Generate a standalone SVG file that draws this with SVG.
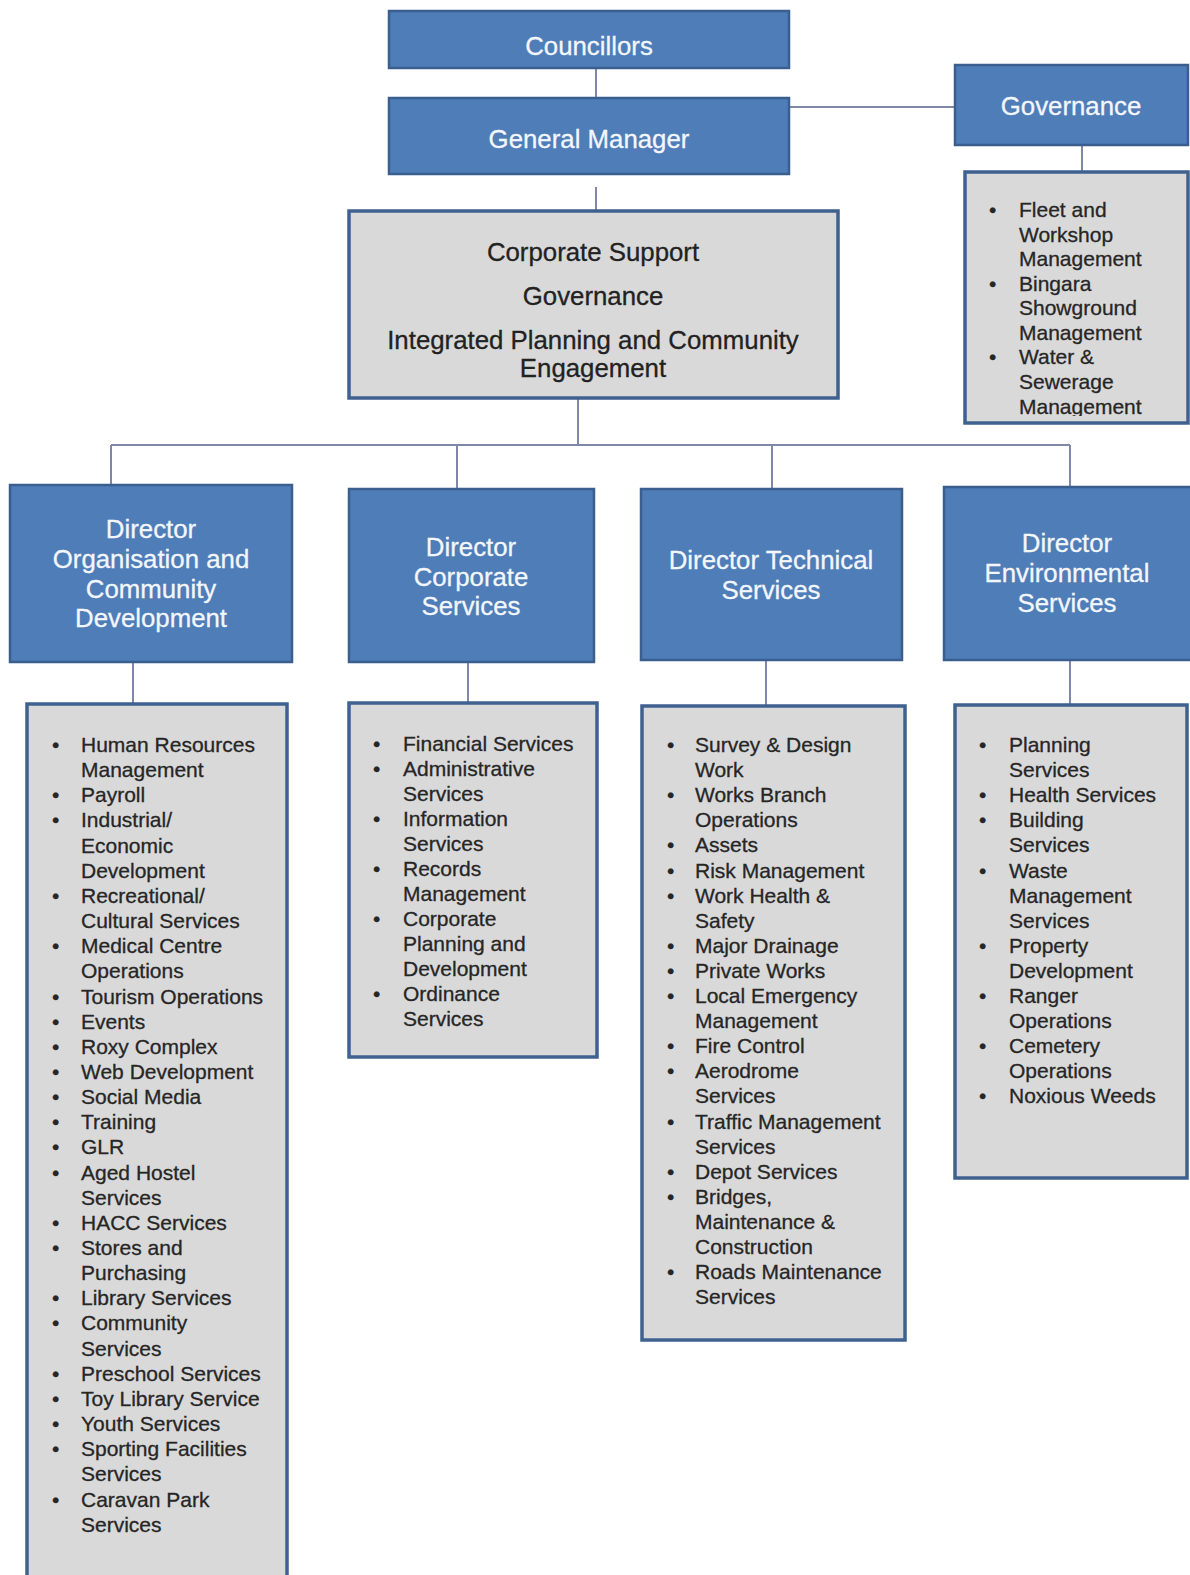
<svg xmlns="http://www.w3.org/2000/svg" width="1190" height="1575" viewBox="0 0 1190 1575">
<style>
.blue{fill:#4e7db8;stroke:#3a5f8f;stroke-width:2.5}
.grey{fill:#d9d9d9;stroke:#3f6190;stroke-width:3.5}
.bt{font-family:"Liberation Sans",Arial,sans-serif;font-size:25.8px;fill:#f3f6fb;stroke:#f3f6fb;stroke-width:0.3;text-anchor:middle}
.ct{font-family:"Liberation Sans",Arial,sans-serif;font-size:25.8px;fill:#222;stroke:#222;stroke-width:0.3;text-anchor:middle}
.lt{font-family:"Liberation Sans",Arial,sans-serif;font-size:21px;fill:#262626;white-space:pre}
.lt text{stroke:#262626;stroke-width:0.3}
.conn line{stroke:#7f88a6;stroke-width:2}
</style>
<defs>
<clipPath id="govclip"><rect x="966" y="174" width="220" height="242"/></clipPath>
</defs>
<rect width="1190" height="1575" fill="#ffffff"/>
<g class="conn" id="connectors">
<line x1="596" y1="68" x2="596" y2="98"/>
<line x1="789" y1="107" x2="955" y2="107"/>
<line x1="1082" y1="145" x2="1082" y2="172"/>
<line x1="596" y1="187" x2="596" y2="211"/>
<line x1="578" y1="398" x2="578" y2="445"/>
<line x1="111" y1="445" x2="1070" y2="445"/>
<line x1="111" y1="445" x2="111" y2="485"/>
<line x1="457" y1="445" x2="457" y2="489"/>
<line x1="772" y1="445" x2="772" y2="489"/>
<line x1="1070" y1="445" x2="1070" y2="487"/>
<line x1="133" y1="662" x2="133" y2="704"/>
<line x1="468" y1="662" x2="468" y2="703"/>
<line x1="766" y1="660" x2="766" y2="706"/>
<line x1="1070" y1="660" x2="1070" y2="705"/>
</g>
<g id="councillors">
<rect class="blue" x="389" y="11" width="400" height="57"/>
<text class="bt" x="589" y="55">Councillors</text>
</g>
<g id="general-manager">
<rect class="blue" x="389" y="98" width="400" height="76"/>
<text class="bt" x="589" y="148">General Manager</text>
</g>
<g id="governance">
<rect class="blue" x="955" y="65" width="233" height="80"/>
<text class="bt" x="1071" y="115">Governance</text>
</g>
<g id="governance-list">
<rect class="grey" x="965" y="172" width="223" height="251"/>
<g clip-path="url(#govclip)" class="lt">
<text x="989" y="217">•</text><text x="1019" y="217">Fleet  and</text>
<text x="1019" y="241.5">Workshop</text>
<text x="1019" y="266">Management</text>
<text x="989" y="290.5">•</text><text x="1019" y="290.5">Bingara</text>
<text x="1019" y="315">Showground</text>
<text x="1019" y="339.5">Management</text>
<text x="989" y="364">•</text><text x="1019" y="364">Water &amp;</text>
<text x="1019" y="388.5">Sewerage</text>
<text x="1019" y="414">Management</text>
</g>
</g>
<g id="corporate-support">
<rect class="grey" x="349" y="211" width="489" height="187"/>
<text class="ct" x="593" y="261">Corporate Support</text>
<text class="ct" x="593" y="305">Governance</text>
<text class="ct" x="593" y="349">Integrated Planning and Community</text>
<text class="ct" x="593" y="377">Engagement</text>
</g>
<g id="director-ocd">
<rect class="blue" x="10" y="485" width="282" height="177"/>
<text class="bt" x="151" y="538">Director</text>
<text class="bt" x="151" y="568">Organisation and</text>
<text class="bt" x="151" y="598">Community</text>
<text class="bt" x="151" y="627">Development</text>
</g>
<g id="director-cs">
<rect class="blue" x="349" y="489" width="245" height="173"/>
<text class="bt" x="471" y="556">Director</text>
<text class="bt" x="471" y="586">Corporate</text>
<text class="bt" x="471" y="615">Services</text>
</g>
<g id="director-ts">
<rect class="blue" x="641" y="489" width="261" height="171"/>
<text class="bt" x="771" y="569">Director Technical</text>
<text class="bt" x="771" y="599">Services</text>
</g>
<g id="director-es">
<rect class="blue" x="944" y="487" width="252" height="173"/>
<text class="bt" x="1067" y="552">Director</text>
<text class="bt" x="1067" y="582">Environmental</text>
<text class="bt" x="1067" y="612">Services</text>
</g>
<g id="list-ocd" class="lt">
<rect class="grey" x="27" y="704" width="260" height="900"/>
<text x="52" y="752">•</text><text x="81" y="752">Human Resources</text>
<text x="81" y="777.15">Management</text>
<text x="52" y="802.3">•</text><text x="81" y="802.3">Payroll</text>
<text x="52" y="827.45">•</text><text x="81" y="827.45">Industrial/</text>
<text x="81" y="852.6">Economic</text>
<text x="81" y="877.75">Development</text>
<text x="52" y="902.9">•</text><text x="81" y="902.9">Recreational/</text>
<text x="81" y="928.05">Cultural Services</text>
<text x="52" y="953.2">•</text><text x="81" y="953.2">Medical Centre</text>
<text x="81" y="978.35">Operations</text>
<text x="52" y="1003.5">•</text><text x="81" y="1003.5">Tourism Operations</text>
<text x="52" y="1028.65">•</text><text x="81" y="1028.65">Events</text>
<text x="52" y="1053.8">•</text><text x="81" y="1053.8">Roxy Complex</text>
<text x="52" y="1078.95">•</text><text x="81" y="1078.95">Web Development</text>
<text x="52" y="1104.1">•</text><text x="81" y="1104.1">Social Media</text>
<text x="52" y="1129.25">•</text><text x="81" y="1129.25">Training</text>
<text x="52" y="1154.4">•</text><text x="81" y="1154.4">GLR</text>
<text x="52" y="1179.55">•</text><text x="81" y="1179.55">Aged Hostel</text>
<text x="81" y="1204.7">Services</text>
<text x="52" y="1229.85">•</text><text x="81" y="1229.85">HACC Services</text>
<text x="52" y="1255">•</text><text x="81" y="1255">Stores and</text>
<text x="81" y="1280.15">Purchasing</text>
<text x="52" y="1305.3">•</text><text x="81" y="1305.3">Library Services</text>
<text x="52" y="1330.45">•</text><text x="81" y="1330.45">Community</text>
<text x="81" y="1355.6">Services</text>
<text x="52" y="1380.75">•</text><text x="81" y="1380.75">Preschool Services</text>
<text x="52" y="1405.9">•</text><text x="81" y="1405.9">Toy Library Service</text>
<text x="52" y="1431.05">•</text><text x="81" y="1431.05">Youth Services</text>
<text x="52" y="1456.2">•</text><text x="81" y="1456.2">Sporting Facilities</text>
<text x="81" y="1481.35">Services</text>
<text x="52" y="1506.5">•</text><text x="81" y="1506.5">Caravan Park</text>
<text x="81" y="1531.65">Services</text>
</g>
<g id="list-cs" class="lt">
<rect class="grey" x="349" y="703" width="248" height="354"/>
<text x="373" y="751">•</text><text x="403" y="751">Financial Services</text>
<text x="373" y="776">•</text><text x="403" y="776">Administrative</text>
<text x="403" y="801">Services</text>
<text x="373" y="826">•</text><text x="403" y="826">Information</text>
<text x="403" y="851">Services</text>
<text x="373" y="876">•</text><text x="403" y="876">Records</text>
<text x="403" y="901">Management</text>
<text x="373" y="926">•</text><text x="403" y="926">Corporate</text>
<text x="403" y="951">Planning and</text>
<text x="403" y="976">Development</text>
<text x="373" y="1001">•</text><text x="403" y="1001">Ordinance</text>
<text x="403" y="1026">Services</text>
</g>
<g id="list-ts" class="lt">
<rect class="grey" x="642" y="706" width="263" height="634"/>
<text x="667" y="752">•</text><text x="695" y="752">Survey &amp; Design</text>
<text x="695" y="777.1">Work</text>
<text x="667" y="802.2">•</text><text x="695" y="802.2">Works Branch</text>
<text x="695" y="827.3">Operations</text>
<text x="667" y="852.4">•</text><text x="695" y="852.4">Assets</text>
<text x="667" y="877.5">•</text><text x="695" y="877.5">Risk Management</text>
<text x="667" y="902.6">•</text><text x="695" y="902.6">Work Health &amp;</text>
<text x="695" y="927.7">Safety</text>
<text x="667" y="952.8">•</text><text x="695" y="952.8">Major Drainage</text>
<text x="667" y="977.9">•</text><text x="695" y="977.9">Private Works</text>
<text x="667" y="1003">•</text><text x="695" y="1003">Local Emergency</text>
<text x="695" y="1028.1">Management</text>
<text x="667" y="1053.2">•</text><text x="695" y="1053.2">Fire Control</text>
<text x="667" y="1078.3">•</text><text x="695" y="1078.3">Aerodrome</text>
<text x="695" y="1103.4">Services</text>
<text x="667" y="1128.5">•</text><text x="695" y="1128.5">Traffic Management</text>
<text x="695" y="1153.6">Services</text>
<text x="667" y="1178.7">•</text><text x="695" y="1178.7">Depot Services</text>
<text x="667" y="1203.8">•</text><text x="695" y="1203.8">Bridges,</text>
<text x="695" y="1228.9">Maintenance &amp;</text>
<text x="695" y="1254">Construction</text>
<text x="667" y="1279.1">•</text><text x="695" y="1279.1">Roads Maintenance</text>
<text x="695" y="1304.2">Services</text>
</g>
<g id="list-es" class="lt">
<rect class="grey" x="955" y="705" width="232" height="473"/>
<text x="979" y="752">•</text><text x="1009" y="752">Planning</text>
<text x="1009" y="777.1">Services</text>
<text x="979" y="802.2">•</text><text x="1009" y="802.2">Health Services</text>
<text x="979" y="827.3">•</text><text x="1009" y="827.3">Building</text>
<text x="1009" y="852.4">Services</text>
<text x="979" y="877.5">•</text><text x="1009" y="877.5">Waste</text>
<text x="1009" y="902.6">Management</text>
<text x="1009" y="927.7">Services</text>
<text x="979" y="952.8">•</text><text x="1009" y="952.8">Property</text>
<text x="1009" y="977.9">Development</text>
<text x="979" y="1003">•</text><text x="1009" y="1003">Ranger</text>
<text x="1009" y="1028.1">Operations</text>
<text x="979" y="1053.2">•</text><text x="1009" y="1053.2">Cemetery</text>
<text x="1009" y="1078.3">Operations</text>
<text x="979" y="1103.4">•</text><text x="1009" y="1103.4">Noxious Weeds</text>
</g>
</svg>
